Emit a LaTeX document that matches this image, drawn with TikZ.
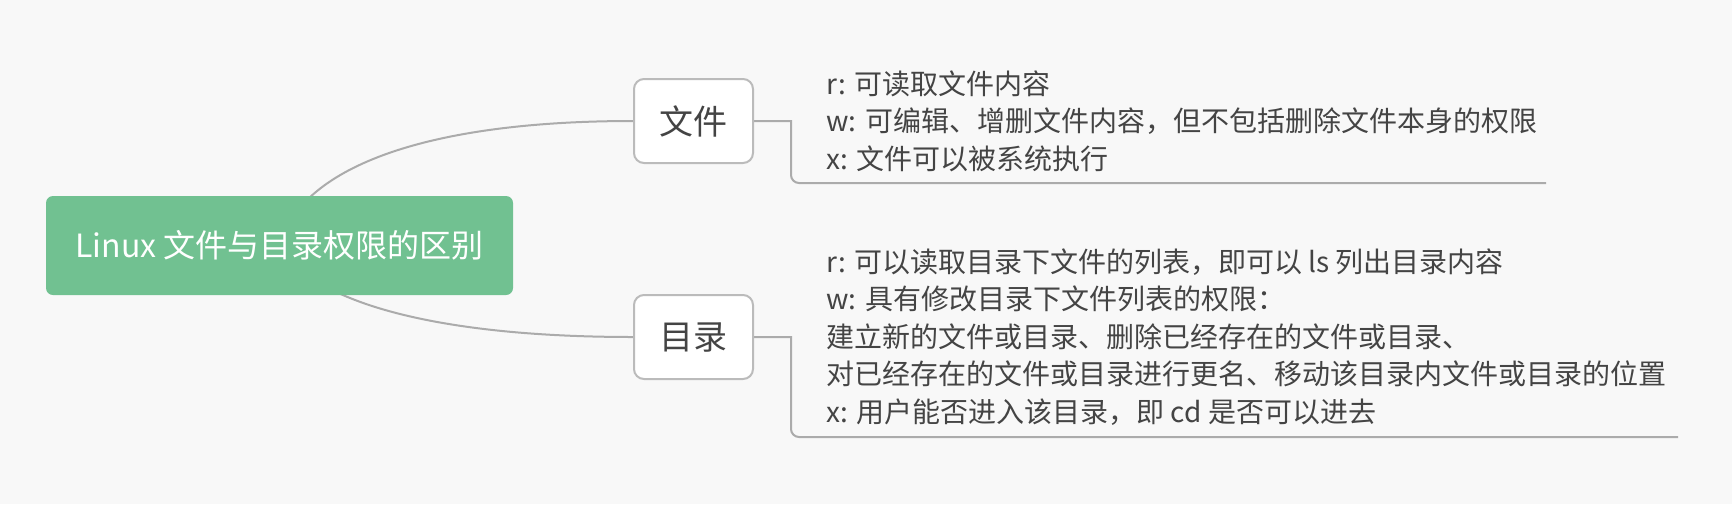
\documentclass[tikz,border=0pt]{standalone}
\usepackage{fontspec}
\setmainfont{Noto Sans CJK SC}
\usetikzlibrary{backgrounds}
\definecolor{bgc}{HTML}{F8F8F8}
\definecolor{rootc}{HTML}{71C191}
\definecolor{linec}{HTML}{ABABAB}
\definecolor{boxc}{HTML}{BBBBBB}
\definecolor{txtc}{HTML}{444444}
\tikzset{
  rootbox/.style={fill=rootc, rounded corners=3.5pt, minimum width=233.5pt, minimum height=49.5pt, inner sep=0pt, text=white, font=\fontsize{16pt}{19pt}\selectfont},
  topicbox/.style={fill=white, draw=boxc, line width=1pt, rounded corners=5pt, minimum width=59.5pt, minimum height=42pt, inner sep=0pt, text=txtc, font=\fontsize{17pt}{20pt}\selectfont},
  leaf/.style={anchor=west, align=left, inner sep=0pt, text=txtc, font=\fontsize{14pt}{18.75pt}\selectfont},
  conn/.style={draw=linec, line width=1pt},
}
\begin{document}
\begin{tikzpicture}[x=0.5pt, y=-0.5pt]
\useasboundingbox (0,0) rectangle (1732,504);
\node[rootbox] (root) at (279.5,245.5) {Linux 文件与目录权限的区别};
\node[topicbox] (file) at (693.5,121) {文件};
\node[topicbox] (dir) at (693.5,337) {目录};
\node[leaf] (filetext) at (826,121) {r: 可读取文件内容\\w: 可编辑、增删文件内容，但不包括删除文件本身的权限\\x: 文件可以被系统执行};
\node[leaf] (dirtext) at (826,337) {r: 可以读取目录下文件的列表，即可以 ls 列出目录内容\\w: 具有修改目录下文件列表的权限：\\建立新的文件或目录、删除已经存在的文件或目录、\\对已经存在的文件或目录进行更名、移动该目录内文件或目录的位置\\x: 用户能否进入该目录，即 cd 是否可以进去};
\coordinate (fileend) at (1546,183);
\coordinate (dirend) at (1678,437);
\begin{scope}[on background layer]
\fill[bgc] (0,0) rectangle (1732,504);
\draw[conn] (root.center) .. controls +(20.5,-75.5) and +(-214,0) .. (file.west);
\draw[conn] (root.center) .. controls +(30.5,54.5) and +(-204,0) .. (dir.west);
\draw[conn] (file.east) -- (791,121) [rounded corners=4pt] -- (791,183) -- (fileend);
\draw[conn] (dir.east) -- (791,337) [rounded corners=4pt] -- (791,437) -- (dirend);
\end{scope}
\end{tikzpicture}
\end{document}
